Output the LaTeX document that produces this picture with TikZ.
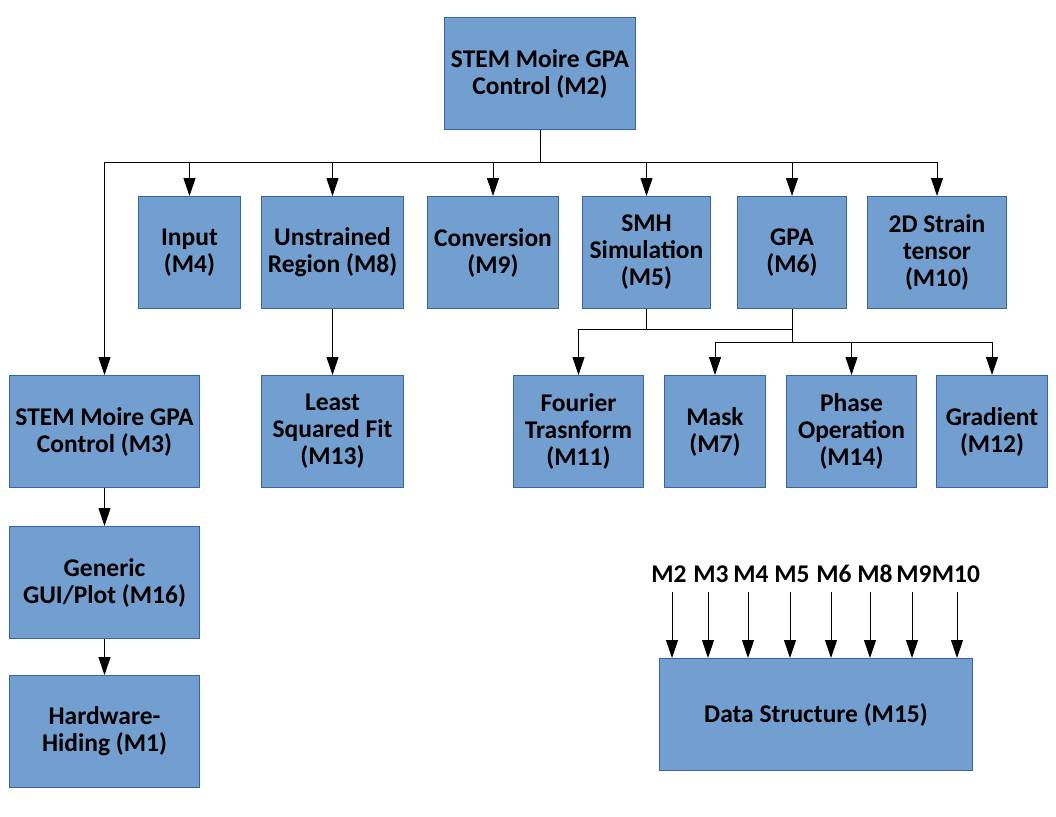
\documentclass[tikz,border=0pt]{standalone}
\usepackage{fontspec}
\setmainfont{Carlito}
\usetikzlibrary{arrows.meta}
\definecolor{boxfill}{HTML}{729FCF}
\definecolor{boxline}{HTML}{3465A4}
\tikzset{
  box/.style={draw=boxline, fill=boxfill, line width=1pt, anchor=north west, align=center, inner sep=0pt,
    font=\fontsize{25.5}{27}\selectfont\bfseries},
  lab/.style={font=\fontsize{25.5}{27}\selectfont\bfseries, inner sep=0pt},
  conn/.style={line width=1pt, black},
  arr/.style={conn, -{Triangle[length=18pt,width=12pt]}}
}
\begin{document}
\begin{tikzpicture}[x=1pt,y=-1pt]
\useasboundingbox (0,0) rectangle (1056,816);
\node[box, minimum width=191pt, minimum height=112pt] (m2) at (444,17) {STEM Moire GPA\\Control (M2)};
\node[box, minimum width=102pt, minimum height=112pt] (m4) at (138,196) {Input\\(M4)};
\node[box, minimum width=142pt, minimum height=112pt] (m8) at (261,196) {Unstrained\\Region (M8)};
\node[box, minimum width=131pt, minimum height=112pt] (m9) at (427,196) {Conversion\\(M9)};
\node[box, minimum width=128pt, minimum height=112pt] (m5) at (582,196) {SMH\\Simulation\\(M5)};
\node[box, minimum width=109pt, minimum height=112pt] (m6) at (737,196) {GPA\\(M6)};
\node[box, minimum width=139pt, minimum height=112pt] (m10) at (867,196) {2D Strain\\tensor\\(M10)};
\node[box, minimum width=190pt, minimum height=112pt] (m3) at (9,375) {STEM Moire GPA\\Control (M3)};
\node[box, minimum width=142pt, minimum height=112pt] (m13) at (261,375) {Least\\Squared Fit\\(M13)};
\node[box, minimum width=130pt, minimum height=112pt] (m11) at (513,375) {Fourier\\Trasnform\\(M11)};
\node[box, minimum width=101pt, minimum height=112pt] (m7) at (664,375) {Mask\\(M7)};
\node[box, minimum width=130pt, minimum height=112pt] (m14) at (786,375) {Phase\\Operation\\(M14)};
\node[box, minimum width=111pt, minimum height=112pt] (m12) at (936,375) {Gradient\\(M12)};
\node[box, minimum width=190pt, minimum height=112pt] (m16) at (9,526) {Generic\\GUI/Plot (M16)};
\node[box, minimum width=190pt, minimum height=112pt] (m1) at (9,675) {Hardware-\\Hiding (M1)};
\node[box, minimum width=313pt, minimum height=112pt] (m15) at (659,658) {Data Structure (M15)};
% bus lines
\coordinate (bus) at (0,162);
\draw[conn] (m2.south) -- (m2.south |- bus);
\draw[conn] (m3.north |- bus) -- (m10.north |- bus);
\foreach \n in {m3,m4,m8,m9,m5,m6,m10} \draw[arr] (\n.north |- bus) -- (\n.north);
\draw[arr] (m8.south) -- (m13.north);
\draw[arr] (m3.south) -- (m16.north);
\draw[arr] (m16.south) -- (m1.north);
\coordinate (bus2) at (0,329);
\coordinate (bus3) at (0,342);
\draw[conn] (m5.south) -- (m5.south |- bus2);
\draw[conn] (m11.north |- bus2) -- (m6.south |- bus2);
\draw[conn] (m6.south) -- (m6.south |- bus3);
\draw[conn] (m7.north |- bus3) -- (m12.north |- bus3);
\foreach \n in {m7,m14,m12} \draw[arr] (\n.north |- bus3) -- (\n.north);
\draw[arr] (m11.north |- bus2) -- (m11.north);
% data structure labels
\node[lab] (l2) at (669,574) {M2};
\node[lab] (l3) at (711,574) {M3};
\node[lab] (l4) at (751,574) {M4};
\node[lab] (l5) at (792,574) {M5};
\node[lab] (l6) at (834,574) {M6};
\node[lab] (l8) at (875,574) {M8};
\node[lab] (l9) at (914,574) {M9};
\node[lab] (l10) at (956,574) {M10};
\coordinate (a2) at (672,592);
\coordinate (a3) at (708,592);
\coordinate (a4) at (748,592);
\coordinate (a5) at (790,592);
\coordinate (a6) at (831,592);
\coordinate (a8) at (870,592);
\coordinate (a9) at (912,592);
\coordinate (a10) at (957,592);
\foreach \a in {a2,a3,a4,a5,a6,a8,a9,a10} \draw[arr] (\a) -- (\a |- m15.north);
\end{tikzpicture}
\end{document}
